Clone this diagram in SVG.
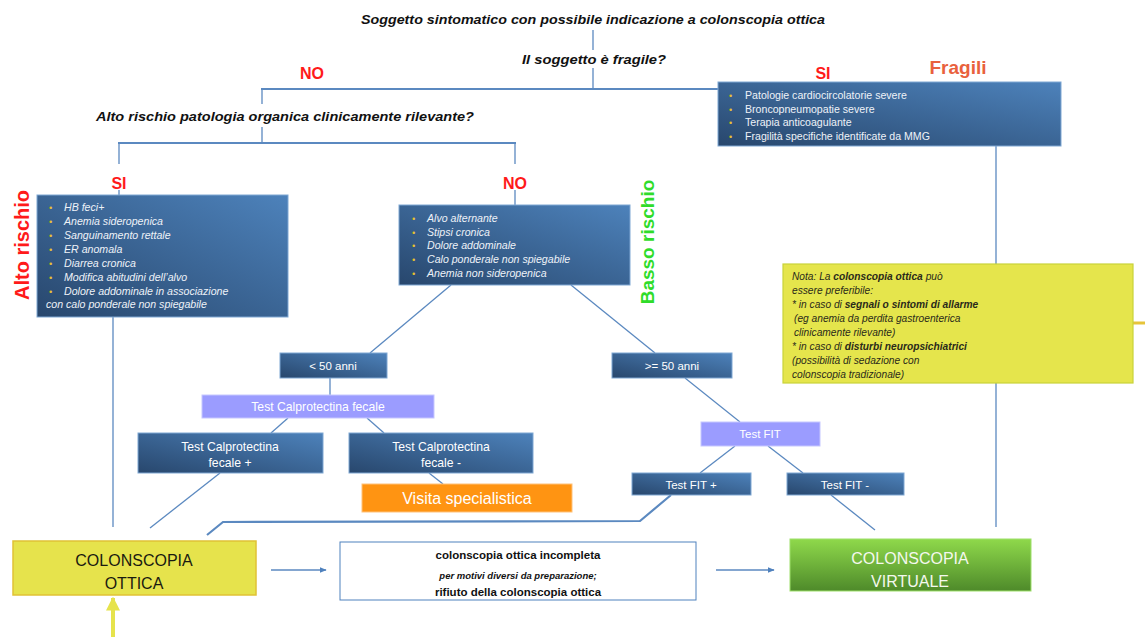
<svg xmlns="http://www.w3.org/2000/svg" width="1145" height="637" viewBox="0 0 1145 637">
  <defs>
    <linearGradient id="blueBox" x1="0" y1="1" x2="1" y2="0">
      <stop offset="0" stop-color="#28476d"/>
      <stop offset="1" stop-color="#4d82bb"/>
    </linearGradient>
    <linearGradient id="greenBox" x1="0" y1="0" x2="0" y2="1">
      <stop offset="0" stop-color="#8fd94b"/>
      <stop offset="1" stop-color="#4e8a2a"/>
    </linearGradient>
    <marker id="arrowBlue" viewBox="0 0 10 10" refX="9" refY="5" markerWidth="7" markerHeight="7" orient="auto" markerUnits="userSpaceOnUse">
      <path d="M0,1 L10,5 L0,9 z" fill="#4f81bd"/>
    </marker>
    <marker id="arrowYellow" viewBox="0 0 10 10" refX="9" refY="5" markerWidth="14" markerHeight="16" orient="auto" markerUnits="userSpaceOnUse">
      <path d="M0,0 L10,5 L0,10 z" fill="#e6e34c"/>
    </marker>
  </defs>
  <style>
    .conn { stroke: #5b89c0; stroke-width: 1.3; fill: none; }
    .thick { stroke: #5b89c0; stroke-width: 2.2; fill: none; }
    .q { font-family: "Liberation Sans", Arial, sans-serif; font-weight: bold; font-style: italic; fill: #111; }
    .red { font-family: "Liberation Sans", Arial, sans-serif; font-weight: bold; fill: #ff1a1a; font-size: 16px; }
    .dark { fill: url(#blueBox); stroke: #7ea7d3; stroke-width: 1; }
    .lav { fill: #9b9cff; stroke: #c6c7ff; stroke-width: 1; }
    .bt { font-family: "Liberation Sans", Arial, sans-serif; fill: #eef2f8; font-size: 10.6px; }
    .bi { font-style: italic; }
    .bul { fill: #e5c12e; font-size: 9px; }
    .wt { font-family: "Liberation Sans", Arial, sans-serif; fill: #ffffff; font-size: 12.2px; text-anchor: middle; }
    .sm { font-size: 11.5px; }
    .lg { font-size: 16px; }
    .note { font-family: "Liberation Sans", Arial, sans-serif; font-style: italic; fill: #2a2a1a; font-size: 10.2px; }
    .big { font-family: "Liberation Sans", Arial, sans-serif; font-size: 16px; text-anchor: middle; }
    .mid { font-family: "Liberation Sans", Arial, sans-serif; font-weight: bold; fill: #111; text-anchor: middle; }
  </style>

  <rect width="1145" height="637" fill="#ffffff"/>

  <!-- connectors -->
  <g id="connectors">
    <line class="conn" x1="593" y1="30" x2="593" y2="50"/>
    <line class="conn" x1="593" y1="68" x2="593" y2="89"/>
    <line class="thick" x1="261" y1="89" x2="720" y2="89"/>
    <line class="conn" x1="262" y1="89" x2="262" y2="104"/>
    <line class="conn" x1="262" y1="127" x2="262" y2="143"/>
    <line class="thick" x1="118" y1="143" x2="516" y2="143"/>
    <line class="conn" x1="119" y1="143" x2="119" y2="164"/>
    <line class="conn" x1="515" y1="143" x2="515" y2="164"/>
    <line class="conn" x1="119" y1="190" x2="119" y2="196"/>
    <line class="conn" x1="515" y1="190" x2="515" y2="205"/>
    <line class="conn" x1="996" y1="146" x2="996" y2="527"/>
    <line class="conn" x1="113" y1="317" x2="113" y2="527"/>
    <line class="conn" x1="451" y1="285" x2="370" y2="353"/>
    <line class="conn" x1="571" y1="285" x2="655" y2="353"/>
    <line class="conn" x1="330" y1="378" x2="330" y2="395"/>
    <line class="conn" x1="288" y1="418" x2="271" y2="433"/>
    <line class="conn" x1="367" y1="418" x2="384" y2="433"/>
    <line class="conn" x1="429" y1="473" x2="443" y2="484"/>
    <line class="conn" x1="220" y1="473" x2="150" y2="528"/>
    <line class="conn" x1="685" y1="378" x2="740" y2="422"/>
    <line class="conn" x1="735" y1="446" x2="700" y2="473"/>
    <line class="conn" x1="768" y1="446" x2="803" y2="473"/>
    <polyline class="thick" points="671,495 640,521 223,522 207,535"/>
    <line class="conn" x1="831" y1="495" x2="875" y2="530"/>
    <line class="conn" x1="271" y1="570" x2="326" y2="570" marker-end="url(#arrowBlue)"/>
    <line class="conn" x1="716" y1="570" x2="774" y2="570" marker-end="url(#arrowBlue)"/>
    <line x1="113" y1="637" x2="113" y2="598" stroke="#e6e34c" stroke-width="4" marker-end="url(#arrowYellow)"/>
    <line x1="1133" y1="323" x2="1145" y2="323" stroke="#e6c43a" stroke-width="3"/>
  </g>

  <!-- questions and labels -->
  <g id="title">
    <text class="q" x="593" y="24" font-size="13" text-anchor="middle" textLength="464" lengthAdjust="spacingAndGlyphs">Soggetto sintomatico con possibile indicazione a colonscopia ottica</text>
  </g>
  <g id="q-fragile">
    <text class="q" x="594" y="64" font-size="13" text-anchor="middle" textLength="144" lengthAdjust="spacingAndGlyphs">Il soggetto è fragile?</text>
    <text class="red" x="312" y="79" text-anchor="middle">NO</text>
    <text class="red" x="823" y="79" text-anchor="middle">SI</text>
  </g>
  <g id="q-rischio">
    <text class="q" x="285" y="121" font-size="13" text-anchor="middle" textLength="378" lengthAdjust="spacingAndGlyphs">Alto rischio patologia organica clinicamente rilevante?</text>
    <text class="red" x="119" y="189" text-anchor="middle">SI</text>
    <text class="red" x="515" y="189" text-anchor="middle">NO</text>
  </g>

  <!-- fragile patients -->
  <g id="fragili">
    <text x="958" y="74" font-family="Liberation Sans, Arial, sans-serif" font-weight="bold" font-size="19" fill="#e9613d" text-anchor="middle">Fragili</text>
    <rect class="dark" x="718" y="82" width="343" height="64"/>
    <text class="bt" x="729" y="99"><tspan class="bul">•</tspan><tspan x="745">Patologie cardiocircolatorie severe</tspan></text>
    <text class="bt" x="729" y="113"><tspan class="bul">•</tspan><tspan x="745">Broncopneumopatie severe</tspan></text>
    <text class="bt" x="729" y="126"><tspan class="bul">•</tspan><tspan x="745">Terapia anticoagulante</tspan></text>
    <text class="bt" x="729" y="140"><tspan class="bul">•</tspan><tspan x="745">Fragilità specifiche identificate da MMG</tspan></text>
  </g>

  <!-- high risk -->
  <g id="alto-rischio">
    <text transform="translate(29,245) rotate(-90)" font-family="Liberation Sans, Arial, sans-serif" font-weight="bold" font-size="20" fill="#ff1a1a" text-anchor="middle">Alto rischio</text>
    <rect class="dark" x="37" y="195" width="251" height="122"/>
    <text class="bt bi" x="49" y="211"><tspan class="bul">•</tspan><tspan x="64">HB feci+</tspan></text>
    <text class="bt bi" x="49" y="225"><tspan class="bul">•</tspan><tspan x="64">Anemia sideropenica</tspan></text>
    <text class="bt bi" x="49" y="239"><tspan class="bul">•</tspan><tspan x="64">Sanguinamento rettale</tspan></text>
    <text class="bt bi" x="49" y="253"><tspan class="bul">•</tspan><tspan x="64">ER anomala</tspan></text>
    <text class="bt bi" x="49" y="267"><tspan class="bul">•</tspan><tspan x="64">Diarrea cronica</tspan></text>
    <text class="bt bi" x="49" y="281"><tspan class="bul">•</tspan><tspan x="64">Modifica abitudini dell’alvo</tspan></text>
    <text class="bt bi" x="49" y="295"><tspan class="bul">•</tspan><tspan x="64">Dolore addominale in associazione</tspan></text>
    <text class="bt bi" x="46" y="308">con calo ponderale non spiegabile</text>
  </g>

  <!-- low risk -->
  <g id="basso-rischio">
    <text transform="translate(654,242) rotate(-90)" font-family="Liberation Sans, Arial, sans-serif" font-weight="bold" font-size="19" fill="#2fdc2a" text-anchor="middle">Basso rischio</text>
    <rect class="dark" x="399" y="205" width="231" height="80"/>
    <text class="bt bi" x="412" y="222"><tspan class="bul">•</tspan><tspan x="427">Alvo alternante</tspan></text>
    <text class="bt bi" x="412" y="236"><tspan class="bul">•</tspan><tspan x="427">Stipsi cronica</tspan></text>
    <text class="bt bi" x="412" y="249"><tspan class="bul">•</tspan><tspan x="427">Dolore addominale</tspan></text>
    <text class="bt bi" x="412" y="263"><tspan class="bul">•</tspan><tspan x="427">Calo ponderale non spiegabile</tspan></text>
    <text class="bt bi" x="412" y="277"><tspan class="bul">•</tspan><tspan x="427">Anemia non sideropenica</tspan></text>
  </g>

  <!-- under 50 path -->
  <g id="under50">
    <rect class="dark" x="280" y="353" width="107" height="25"/>
    <text class="wt sm" x="333" y="370">&lt; 50 anni</text>
  </g>
  <g id="calpro-test">
    <rect class="lav" x="202" y="395" width="232" height="23"/>
    <text class="wt" x="318" y="411">Test Calprotectina fecale</text>
  </g>
  <g id="calpro-pos">
    <rect class="dark" x="138" y="433" width="185" height="40"/>
    <text class="wt" x="230" y="451">Test Calprotectina</text>
    <text class="wt" x="230" y="467">fecale +</text>
  </g>
  <g id="calpro-neg">
    <rect class="dark" x="349" y="433" width="184" height="40"/>
    <text class="wt" x="441" y="451">Test Calprotectina</text>
    <text class="wt" x="441" y="467">fecale -</text>
  </g>
  <g id="visita">
    <rect x="362" y="484" width="210" height="28" fill="#ff9412" stroke="#ffc27a" stroke-width="1"/>
    <text class="wt lg" x="467" y="504">Visita specialistica</text>
  </g>

  <!-- 50 and over path -->
  <g id="over50">
    <rect class="dark" x="612" y="353" width="120" height="25"/>
    <text class="wt sm" x="672" y="370">&gt;= 50 anni</text>
  </g>
  <g id="fit-test">
    <rect class="lav" x="701" y="422" width="119" height="24"/>
    <text class="wt sm" x="760" y="438">Test FIT</text>
  </g>
  <g id="fit-pos">
    <rect class="dark" x="632" y="473" width="119" height="22"/>
    <text class="wt sm" x="691" y="489">Test FIT +</text>
  </g>
  <g id="fit-neg">
    <rect class="dark" x="787" y="473" width="117" height="22"/>
    <text class="wt sm" x="845" y="489">Test FIT -</text>
  </g>

  <!-- note -->
  <g id="nota">
    <rect x="783" y="264" width="350" height="119" fill="#e5e54c" stroke="#c9d23a" stroke-width="1.2"/>
    <text class="note" x="792" y="280">Nota: La <tspan font-weight="bold">colonscopia ottica</tspan> può</text>
    <text class="note" x="792" y="294">essere preferibile:</text>
    <text class="note" x="792" y="308">* in caso di <tspan font-weight="bold">segnali o sintomi di allarme</tspan></text>
    <text class="note" x="794" y="322">(eg anemia da perdita gastroenterica</text>
    <text class="note" x="794" y="336">clinicamente rilevante)</text>
    <text class="note" x="792" y="350">* in caso di <tspan font-weight="bold">disturbi neuropsichiatrici</tspan></text>
    <text class="note" x="792" y="364">(possibilità di sedazione con</text>
    <text class="note" x="792" y="378">colonscopia tradizionale)</text>
  </g>

  <!-- outcomes -->
  <g id="colonscopia-ottica">
    <rect x="13" y="541" width="243" height="54" fill="#e6e34c" stroke="#e0c234" stroke-width="1.5"/>
    <text class="big" x="134" y="566" fill="#1a1a10">COLONSCOPIA</text>
    <text class="big" x="134" y="589" fill="#1a1a10">OTTICA</text>
  </g>
  <g id="incompleta">
    <rect x="340" y="542" width="356" height="58" fill="#ffffff" stroke="#4f81bd" stroke-width="1"/>
    <text class="mid" x="518" y="559" font-size="11.5">colonscopia ottica incompleta</text>
    <text class="mid" x="518" y="579" font-size="9.5" font-style="italic">per motivi diversi da preparazione;</text>
    <text class="mid" x="518" y="596" font-size="11.5">rifiuto della colonscopia ottica</text>
  </g>
  <g id="colonscopia-virtuale">
    <rect x="790" y="539" width="241" height="52" fill="url(#greenBox)" stroke="#9ee06a" stroke-width="1"/>
    <text class="big" x="910" y="564" fill="#f4f8ee">COLONSCOPIA</text>
    <text class="big" x="910" y="587" fill="#f4f8ee">VIRTUALE</text>
  </g>
</svg>
